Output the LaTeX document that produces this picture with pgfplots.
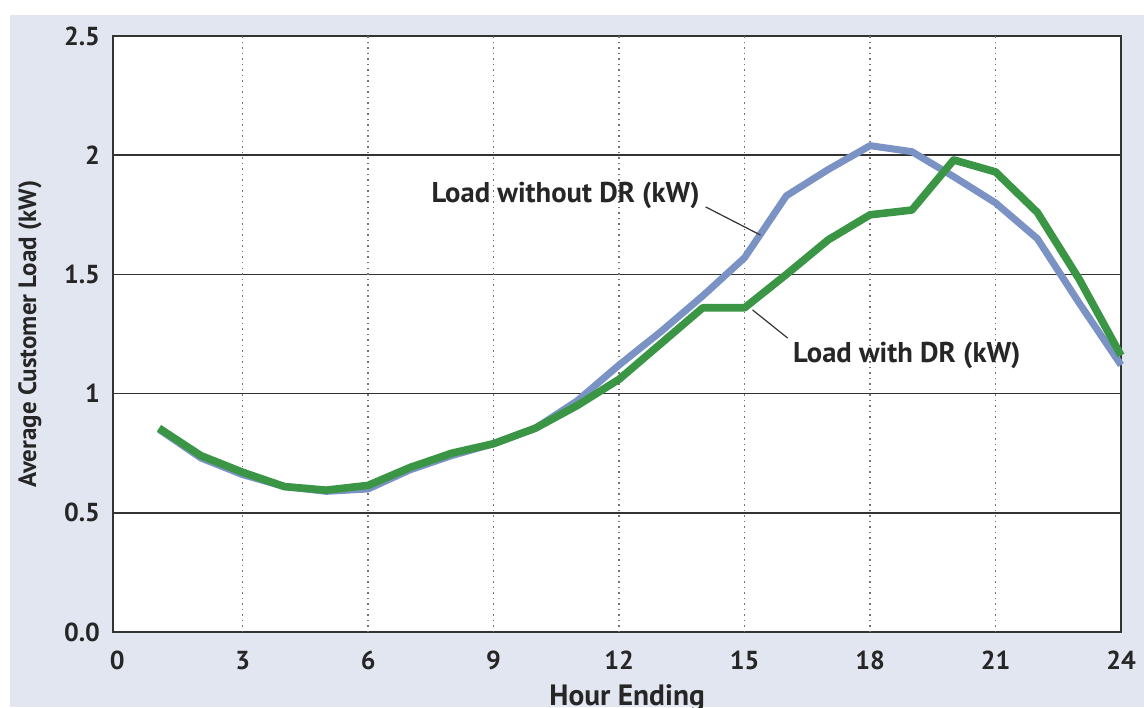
\documentclass[border=0pt]{standalone}
\usepackage{fontspec}
\setmainfont{PT Sans}
\usepackage{pgfplots}
\pgfplotsset{compat=1.18}
\definecolor{bgc}{HTML}{E1E6F0}
\definecolor{blueline}{HTML}{7B93C4}
\definecolor{greenline}{HTML}{3A9645}
\pgfplotstableread{
h without with
1 0.85 0.855
2 0.73 0.74
3 0.66 0.67
4 0.61 0.61
5 0.59 0.595
6 0.60 0.615
7 0.68 0.69
8 0.74 0.75
9 0.79 0.79
10 0.855 0.855
11 0.97 0.95
12 1.12 1.06
13 1.26 1.21
14 1.41 1.36
15 1.57 1.36
16 1.83 1.50
17 1.94 1.645
18 2.04 1.75
19 2.015 1.77
20 1.91 1.98
21 1.80 1.93
22 1.65 1.76
23 1.38 1.48
24 1.12 1.16
}\loadtable
\begin{document}
\begin{tikzpicture}
\useasboundingbox (0,0) rectangle (572pt,353.5pt);
\fill[white] (0,0) rectangle (572pt,353.5pt);
\fill[bgc] (5pt,0) rectangle (572pt,346pt);
\begin{axis}[
  at={(56.5pt,37.5pt)}, anchor=south west,
  scale only axis, width=504pt, height=298pt,
  xmin=-0.1, xmax=24, ymin=0, ymax=2.5,
  axis background/.style={fill=white},
  axis line style={line width=1pt, draw=black!80},
  xtick={0,3,...,24},
  xticklabels={0,3,6,9,12,15,18,21,24},
  ytick={0,0.5,1,1.5,2,2.5},
  yticklabels={0.0,0.5,1,1.5,2,2.5},
  major tick length=0pt,
  tick label style={font=\bfseries\fontsize{13}{13}\selectfont, text=black!85},
  xticklabel style={yshift=-6pt},
  yticklabel style={xshift=-3pt},
  extra x ticks={3,6,...,21}, extra x tick labels={},
  extra x tick style={grid=major, major grid style={dotted, line width=0.8pt, draw=black!55}},
  ymajorgrids, major grid style={line width=0.75pt, draw=black!80},
  xlabel={Hour Ending},
  ylabel={Average Customer Load (kW)},
  label style={font=\bfseries\fontsize{12.5}{13}\selectfont, text=black!85},
  xlabel style={at={(axis description cs:0.51,-0.1225)}, anchor=base, font=\bfseries\fontsize{14.7}{15}\selectfont},
  ylabel style={at={(axis description cs:-0.0823,0.5)}, anchor=center},
  clip=false,
]
\addplot[blueline, line width=3.5pt, line join=round] table[x=h,y=without] {\loadtable};
\addplot[greenline, line width=3.8pt, line join=round] table[x=h,y=with] {\loadtable};
\draw[black!80, line width=0.6pt] (axis cs:14.07,1.783) -- (axis cs:15.38,1.665);
\draw[black!80, line width=0.6pt] (axis cs:15.19,1.351) -- (axis cs:16.03,1.233);
\node[font=\bfseries\fontsize{14.3}{15}\selectfont, text=black!85] at (axis cs:10.72,1.833) {Load without DR (kW)};
\node[font=\bfseries\fontsize{14.3}{15}\selectfont, text=black!85] at (axis cs:18.88,1.162) {Load with DR (kW)};
\end{axis}
\end{tikzpicture}
\end{document}
